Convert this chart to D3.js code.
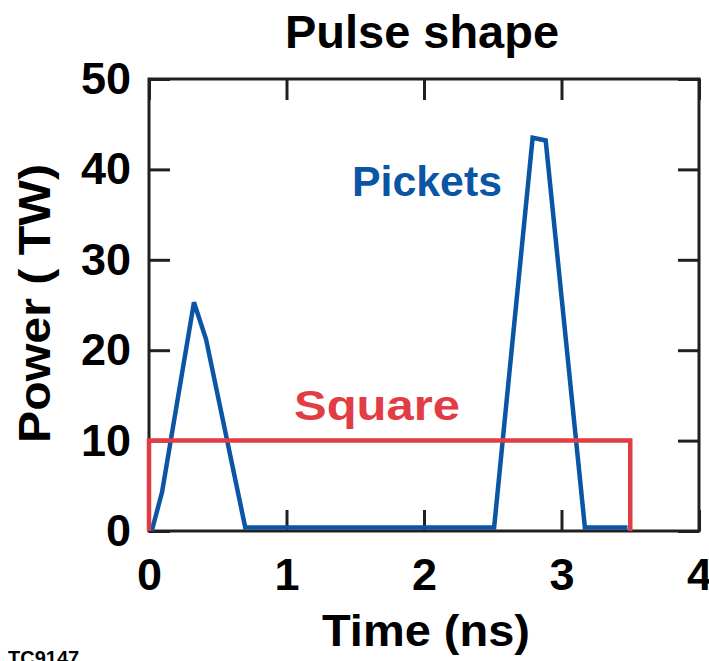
<!DOCTYPE html>
<html>
<head>
<meta charset="utf-8">
<script src="https://cdn.jsdelivr.net/npm/d3@7"></script>
<style>
  html, body { margin: 0; padding: 0; background: #fff; }
  svg { display: block; font-family: "Liberation Sans", Arial, Helvetica, sans-serif; font-weight: bold; }
</style>
</head>
<body>
<svg id="chart" width="709" height="661"></svg>
<script>
// ---- data ----
const xTicks = [0, 1, 2, 3, 4];
const yTicks = [0, 10, 20, 30, 40, 50];
const picketsTime  = [0.02, 0.095, 0.327, 0.415, 0.70, 2.51, 2.79, 2.885, 3.17, 3.48];
const picketsPower = [0,    4.3,   25.3,  21.2,  0.4,  0.4,  43.5, 43.2,  0.4,  0.4];
const squareTime  = [0, 0, 3.5, 3.5];
const squarePower = [0, 10, 10, 0];
const titleText = "Pulse shape";
const xLabel = "Time (ns)";
const yLabel = "Power ( TW)";
const seriesLabels = ["Pickets", "Square"];
const figId = "TC9147";

// ---- layout ----
const W = 709, H = 661;
const mLeft = 149, mRight = 699, mTop = 79, mBottom = 531;
const blue = "#0b55a5", red = "#e23c45", ink = "#231f20";

const svg = d3.select("#chart");
const x = d3.scaleLinear().domain([0, 4]).range([mLeft, mRight]);
const y = d3.scaleLinear().domain([0, 50]).range([mBottom, mTop]);

function styleAxis(g, showLabels) {
  g.select(".domain").remove();
  g.selectAll(".tick line").attr("stroke", ink).attr("stroke-width", 3);
  if (!showLabels) g.selectAll(".tick text").remove();
  else g.selectAll(".tick text").attr("fill", "#000").attr("font-size", 45).attr("font-weight", "bold")
        .attr("font-family", "'Liberation Sans', Arial, sans-serif");
}

const tickLen = 21;
svg.append("g").attr("transform", `translate(0,${mBottom})`)
  .call(d3.axisBottom(x).tickValues(xTicks).tickFormat(d3.format("d")).tickSize(-tickLen).tickPadding(27))
  .call(g => styleAxis(g, true));
svg.append("g").attr("transform", `translate(0,${mTop})`)
  .call(d3.axisTop(x).tickValues(xTicks).tickSize(-tickLen))
  .call(g => styleAxis(g, false));
svg.append("g").attr("transform", `translate(${mLeft},0)`)
  .call(d3.axisLeft(y).tickValues(yTicks).tickFormat(d3.format("d")).tickSize(-tickLen).tickPadding(18))
  .call(g => styleAxis(g, true));
svg.append("g").attr("transform", `translate(${mRight},0)`)
  .call(d3.axisRight(y).tickValues(yTicks).tickSize(-tickLen))
  .call(g => styleAxis(g, false));

// frame
svg.append("rect")
  .attr("x", mLeft).attr("y", mTop)
  .attr("width", mRight - mLeft).attr("height", mBottom - mTop)
  .attr("fill", "none").attr("stroke", ink).attr("stroke-width", 3);

const line = d3.line().x(d => x(d[0])).y(d => y(d[1]));

svg.append("path")
  .datum(picketsTime.map((t, i) => [t, picketsPower[i]]))
  .attr("d", line)
  .attr("fill", "none").attr("stroke", blue).attr("stroke-width", 4.5)
  .attr("stroke-linejoin", "miter");

svg.append("path")
  .datum(squareTime.map((t, i) => [t, squarePower[i]]))
  .attr("d", line)
  .attr("fill", "none").attr("stroke", red).attr("stroke-width", 4.5)
  .attr("stroke-linejoin", "miter");

// texts
function label(txt, xPos, yPos, size, fill, len, rot) {
  const t = svg.append("text").attr("text-anchor", "middle")
    .attr("font-size", size).attr("fill", fill).text(txt);
  if (rot) t.attr("transform", `translate(${xPos},${yPos}) rotate(-90)`);
  else t.attr("x", xPos).attr("y", yPos);
  if (len) t.attr("textLength", len).attr("lengthAdjust", "spacingAndGlyphs");
  return t;
}
label(titleText, 422, 48, 46, "#000", 274);
label(xLabel, 426, 646, 45, "#000", 208);
label(yLabel, 50, 303.5, 45, "#000", 279, true);
label(seriesLabels[0], 427, 196, 43, blue, 150);
label(seriesLabels[1], 377, 420, 43, red, 166);

svg.append("text").attr("x", 8).attr("y", 665)
  .attr("font-size", 20).attr("fill", "#000").text(figId);
</script>
</body>
</html>
